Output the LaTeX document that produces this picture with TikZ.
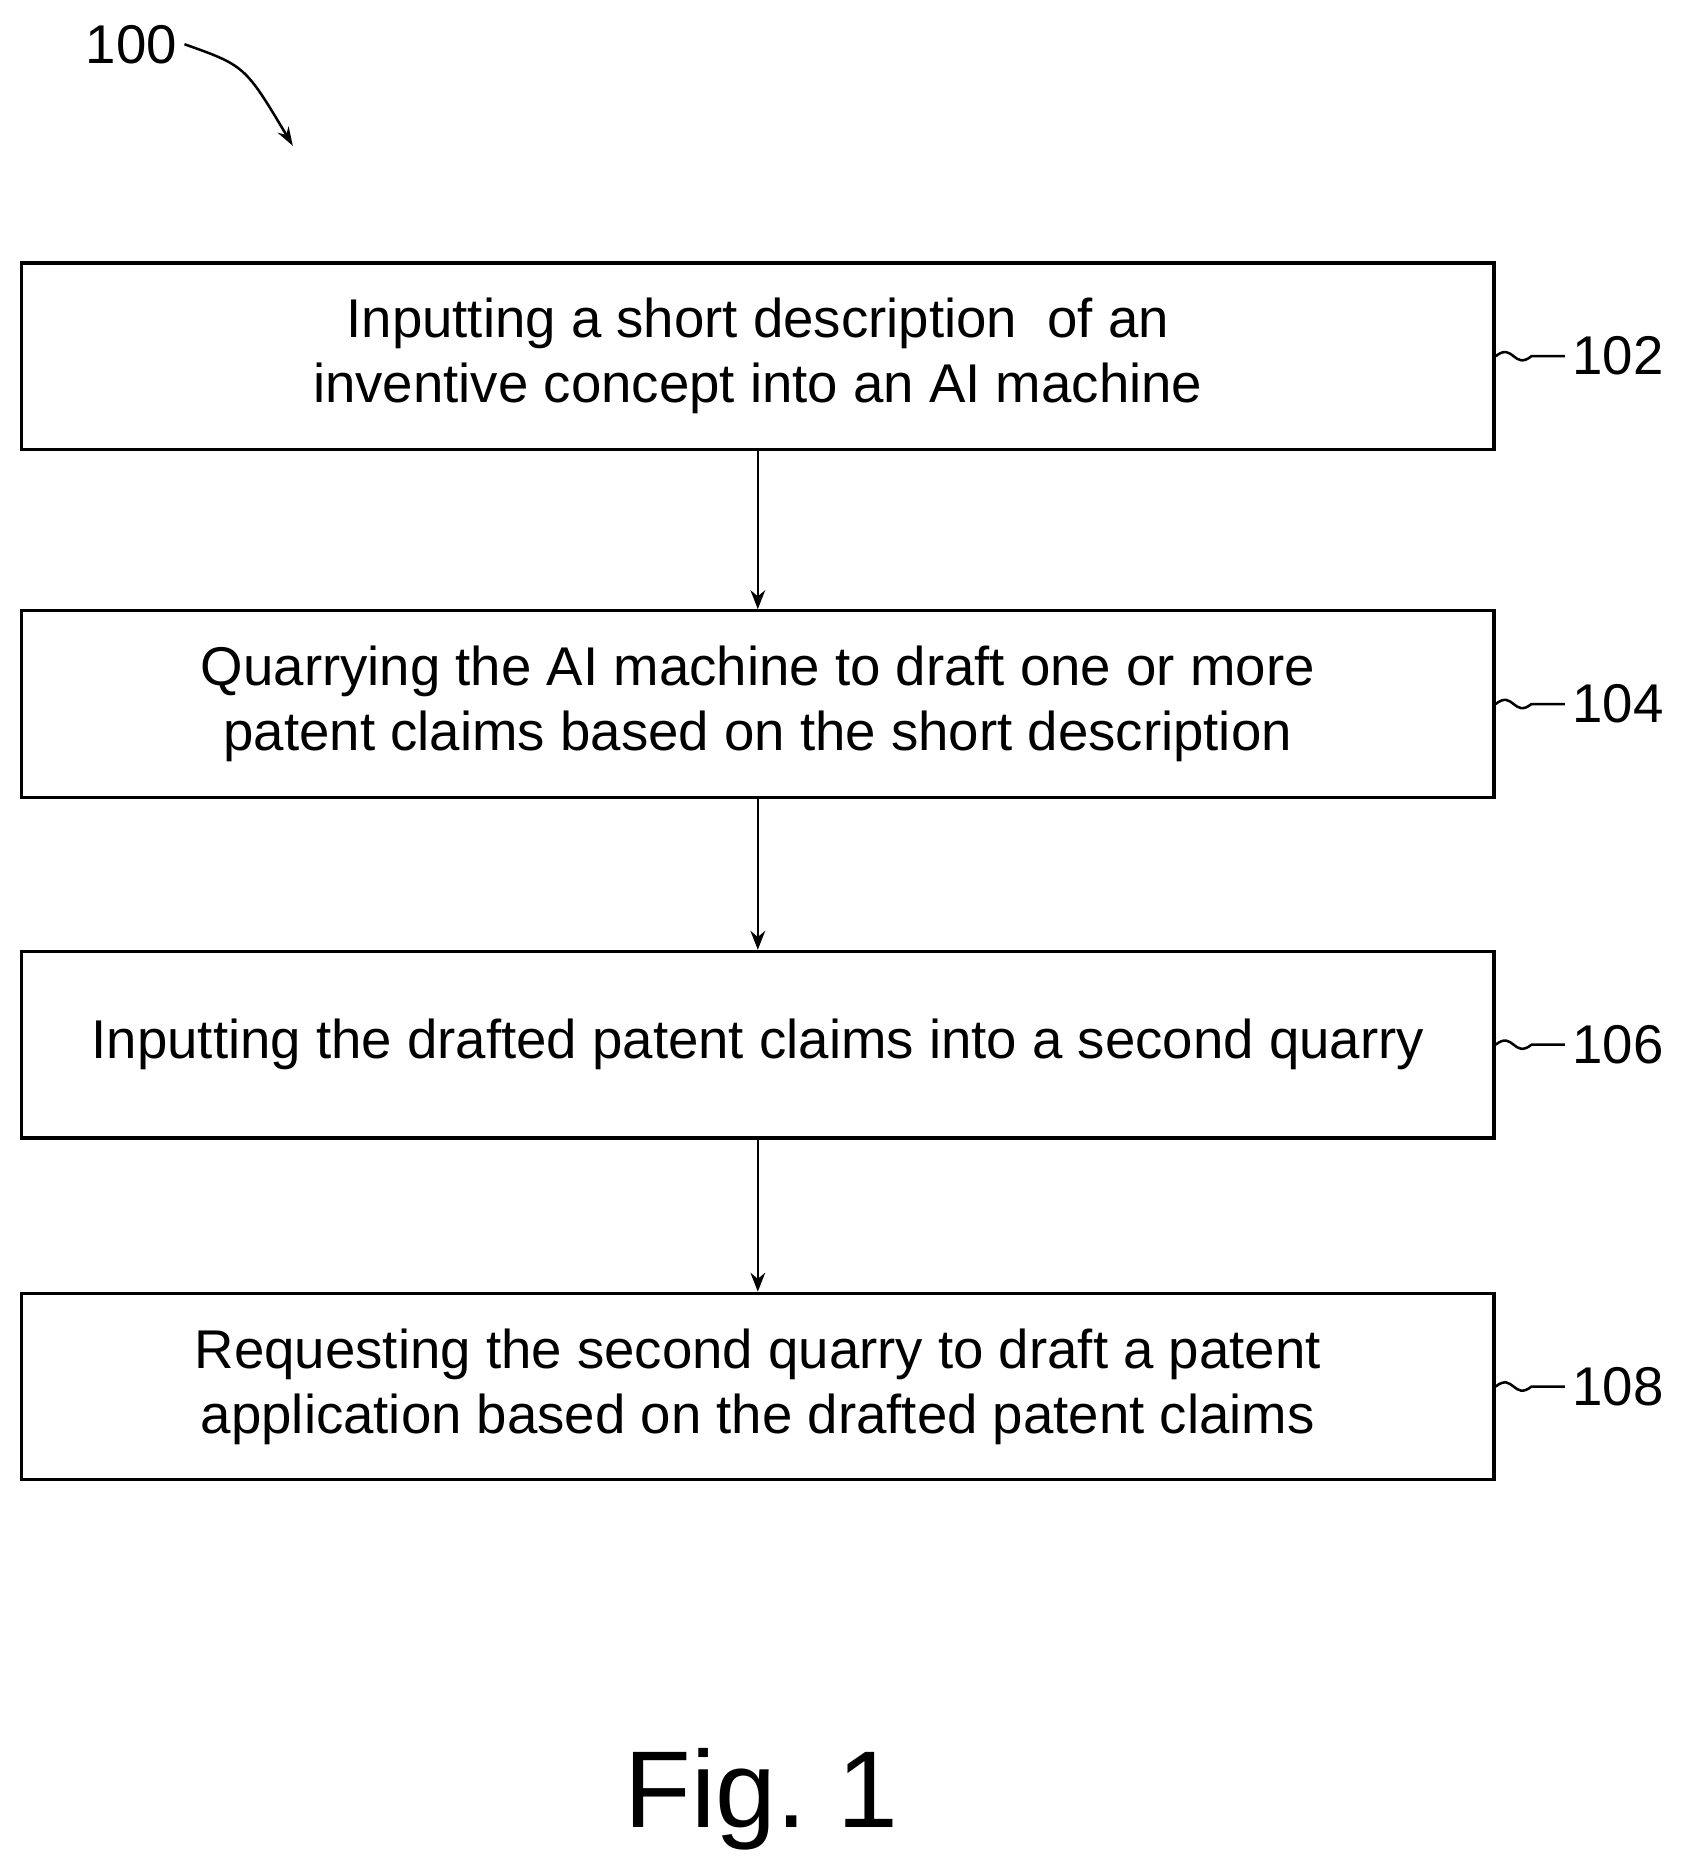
\documentclass[tikz,border=0pt]{standalone}
\usepackage{fontspec}
\setmainfont{Liberation Sans}
\usetikzlibrary{positioning,arrows.meta}
\begin{document}
\begin{tikzpicture}[x=0.02cm,y=-0.02cm,
  stepbox/.style={draw,line width=1.6pt,minimum width=24.64cm,minimum height=3.12cm,
    align=center,font=\fontsize{26}{31}\selectfont,inner sep=0pt},
  ref/.style={font=\fontsize{26}{31}\selectfont,anchor=west},
  flow/.style={-{Stealth[length=9pt,width=7pt]},line width=1.2pt}]
  \useasboundingbox (0,0) rectangle (1414,1567);
  \node[stepbox] (s1) at (634,298) {Inputting a short description\ \ of an\\inventive concept into an AI machine};
  \node[stepbox] (s2) at (634,589) {Quarrying the AI machine to draft one or more\\patent claims based on the short description};
  \node[stepbox] (s3) at (634,874) {Inputting the drafted patent claims into a second quarry};
  \node[stepbox] (s4) at (634,1160) {Requesting the second quarry to draft a patent\\application based on the drafted patent claims};

  \draw[flow] (s1) -- (s2);
  \draw[flow] (s2) -- (s3);
  \draw[flow] (s3) -- (s4);

  % reference numerals
  \foreach \n/\lab in {s1/102,s2/104,s3/106,s4/108}{
    \node[ref,right=1.16cm of \n.east] (r\lab) {\lab};
    \draw[line width=1.2pt] (\n.east) .. controls +(15,-12) and +(-15,12) .. ++(30,0) -- (r\lab.west);
  }

  \node[font=\fontsize{26}{31}\selectfont] (fig100) at (110,37) {100};
  \draw[-{Stealth[length=9pt,width=6pt]},line width=1.2pt] (fig100.east) .. controls (205,55) .. (245,122);
  \node[font=\fontsize{52}{60}\selectfont] (cap) at (637,1505) {Fig.\ 1};
\end{tikzpicture}
\end{document}
